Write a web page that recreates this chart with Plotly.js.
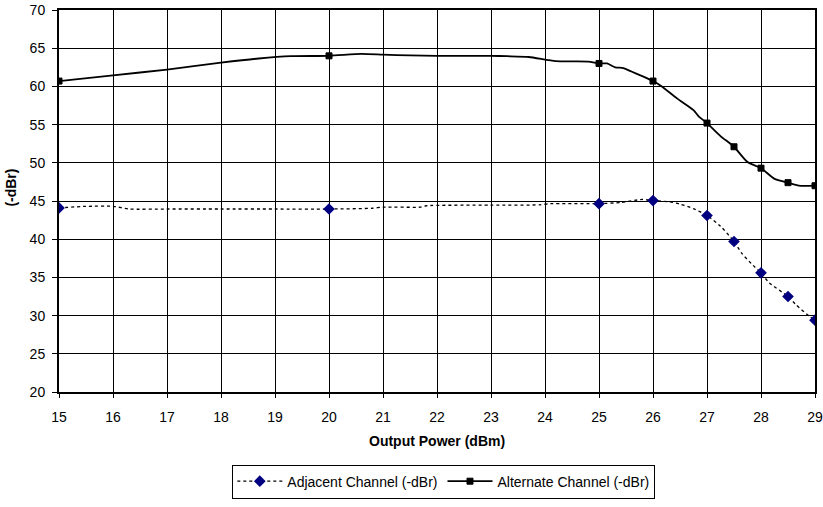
<!DOCTYPE html>
<html>
<head>
<meta charset="utf-8">
<script src="https://cdn.plot.ly/plotly-3.0.1.min.js"></script>
<style>html,body{margin:0;padding:0;background:#fff;}#chart{width:823px;height:507px;}</style>
</head>
<body>
<div id="chart"></div>
<script>
// Adjacent channel: measured curve (dotted) and marked points
var adjX = [15, 15.5, 16, 16.3, 17, 18, 19, 20, 20.8, 21, 21.7, 21.8, 23, 23.9, 24.1, 25, 25.4, 25.8, 26, 26.3, 26.5, 26.75, 27, 27.25, 27.5, 27.65, 27.85, 28, 28.15, 28.5, 28.65, 28.9, 29];
var adjY = [44.1, 44.3, 44.3, 43.95, 43.95, 43.95, 43.95, 43.95, 44.05, 44.2, 44.2, 44.38, 44.45, 44.5, 44.65, 44.65, 44.8, 45.2, 45.05, 44.9, 44.6, 44.0, 43.1, 41.7, 39.7, 38.1, 36.6, 35.6, 34.3, 32.5, 31.4, 29.9, 29.4];
var adjMarkX = [15, 20, 25, 26, 27, 27.5, 28, 28.5, 29];
var adjMarkY = [44.1, 43.95, 44.65, 45.05, 43.1, 39.7, 35.6, 32.5, 29.4];

// Alternate channel: measured curve (solid) and marked points
var altX = [15, 16, 17, 18, 18.7, 19.3, 20, 20.6, 21, 21.5, 22, 23, 23.3, 23.7, 24.2, 24.8, 25, 25.15, 25.3, 25.45, 25.6, 25.8, 26, 26.15, 26.45, 26.75, 26.85, 27, 27.25, 27.5, 27.75, 28, 28.25, 28.5, 28.7, 29];
var altY = [60.7, 61.45, 62.2, 63.1, 63.65, 63.95, 64.0, 64.25, 64.15, 64.05, 64.0, 64.0, 63.95, 63.85, 63.3, 63.25, 63.0, 63.0, 62.5, 62.4, 61.95, 61.35, 60.7, 60.05, 58.4, 56.9, 56.05, 55.2, 53.5, 52.1, 50.1, 49.3, 47.9, 47.4, 47.0, 47.0];
var altMarkX = [15, 20, 25, 26, 27, 27.5, 28, 28.5, 29];
var altMarkY = [60.7, 64.0, 63.0, 60.7, 55.2, 52.1, 49.3, 47.4, 47.0];

var seriesNames = ['Adjacent Channel (-dBr)', 'Alternate Channel (-dBr)'];
var xTitle = 'Output Power (dBm)';
var yTitle = '(-dBr)';

function isolate(xs, ys) {
  var ox = [], oy = [];
  for (var i = 0; i < xs.length; i++) {
    if (i > 0) { ox.push(null); oy.push(null); }
    ox.push(xs[i]); oy.push(ys[i]);
  }
  return [ox, oy];
}
var adjM = isolate(adjMarkX, adjMarkY);
var altM = isolate(altMarkX, altMarkY);

var FONT = 'Liberation Sans, Arial, sans-serif';

var traces = [
  {x: adjX, y: adjY, mode: 'lines', line: {color: '#000', width: 1.3, dash: 'dot', shape: 'spline', smoothing: 0.6},
   showlegend: false, legendgroup: 'adj', hoverinfo: 'skip'},
  {x: adjM[0], y: adjM[1], mode: 'lines+markers', name: seriesNames[0], legendgroup: 'adj', connectgaps: false,
   line: {color: '#000', width: 1.3, dash: 'dot'},
   marker: {symbol: 'diamond', size: 9, color: '#000080', line: {width: 0}}},
  {x: altX, y: altY, mode: 'lines', line: {color: '#000', width: 1.8, shape: 'spline', smoothing: 0.6},
   showlegend: false, legendgroup: 'alt', hoverinfo: 'skip'},
  {x: altM[0], y: altM[1], mode: 'lines+markers', name: seriesNames[1], legendgroup: 'alt', connectgaps: false,
   line: {color: '#000', width: 1.8},
   marker: {symbol: 'square', size: 6, color: '#000', line: {color: '#000', width: 1}}}
];

var layout = {
  width: 823, height: 507,
  margin: {l: 59, r: 8, t: 10, b: 103},
  paper_bgcolor: '#fff', plot_bgcolor: '#fff',
  font: {family: FONT, size: 14, color: '#000'},
  showlegend: true,
  xaxis: {
    range: [15, 29], dtick: 1, tick0: 15, showgrid: true, gridcolor: '#000', gridwidth: 1,
    showline: true, linecolor: '#000', linewidth: 2, mirror: true,
    ticks: 'outside', ticklen: 4, tickcolor: '#000', zeroline: false, ticklabelstandoff: 7,
    tickfont: {family: FONT, size: 14, color: '#000'}, fixedrange: true
  },
  yaxis: {
    range: [20, 70], dtick: 5, tick0: 20, showgrid: true, gridcolor: '#000', gridwidth: 1,
    showline: true, linecolor: '#000', linewidth: 2, mirror: true,
    ticks: 'outside', ticklen: 5, tickcolor: '#000', zeroline: false, ticklabelstandoff: 4,
    tickfont: {family: FONT, size: 14, color: '#000'}, fixedrange: true
  },
  annotations: [
    {text: '<b>' + xTitle + '</b>', xref: 'paper', yref: 'paper', x: 0.5, y: -0.129,
     xanchor: 'center', yanchor: 'middle', showarrow: false, font: {family: FONT, size: 14, color: '#000'}},
    {text: '<b>' + yTitle + '</b>', xref: 'paper', yref: 'paper', x: -0.0635, y: 0.535, textangle: -90,
     xanchor: 'center', yanchor: 'middle', showarrow: false, font: {family: FONT, size: 14, color: '#000'}}
  ],
  legend: {
    orientation: 'h', x: 0.509, xanchor: 'center', y: -0.19, yanchor: 'top',
    bordercolor: '#000', borderwidth: 1, bgcolor: '#fff', itemwidth: 45,
    font: {family: FONT, size: 14, color: '#000'}
  }
};

Plotly.newPlot('chart', traces, layout, {staticPlot: true, displayModeBar: false});
</script>
</body>
</html>
